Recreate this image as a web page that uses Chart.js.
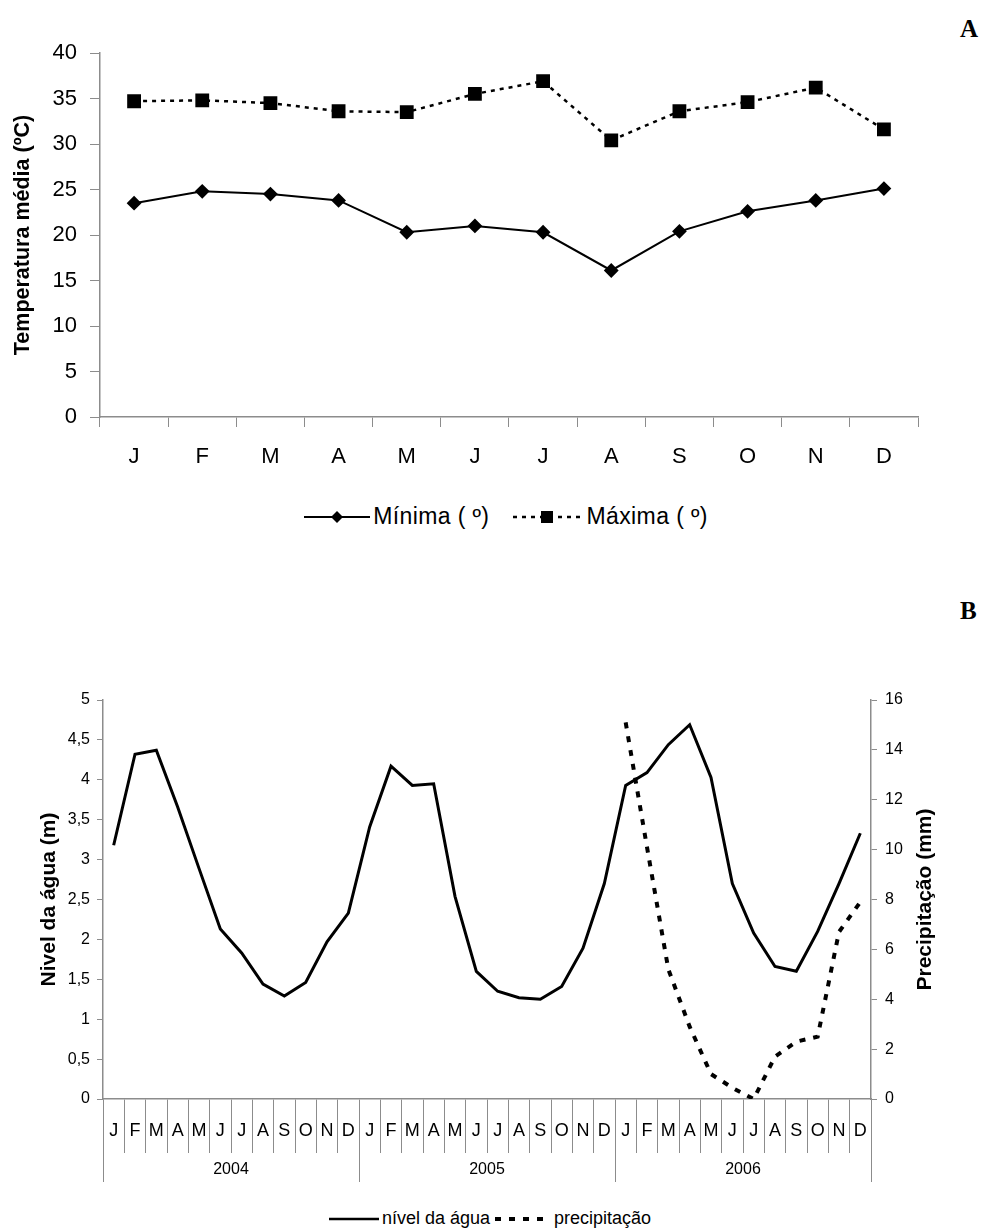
<!DOCTYPE html>
<html>
<head>
<meta charset="utf-8">
<script src="https://cdn.jsdelivr.net/npm/chart.js@4/dist/chart.umd.min.js"></script>
<style>
  body { margin: 0; background: #fff; width: 989px; height: 1231px; position: relative; overflow: hidden;
         font-family: "Liberation Sans", Arial, sans-serif; }
  #tempBox { position: absolute; left: 0; top: 0; width: 989px; height: 470px; }
  #nivelBox { position: absolute; left: 0; top: 640px; width: 989px; height: 560px; }
  .panel { position: absolute; left: 960px; font-family: "Liberation Serif", "Times New Roman", serif;
           font-weight: bold; font-size: 25px; line-height: 1; }
  .legend { position: absolute; left: 0; width: 989px; display: flex; justify-content: center;
            align-items: center; white-space: pre; color: #000; }
  .legend svg { margin: 0 3px; }
</style>
</head>
<body>
<div class="panel" style="top:16px">A</div>
<div class="panel" style="top:598px">B</div>

<div id="tempBox"><canvas id="tempChart"></canvas></div>
<div class="legend" id="tempLegend" style="top:503px;font-size:23px;letter-spacing:0.4px;left:10px">
  <svg width="66" height="16"><line x1="0" y1="8" x2="66" y2="8" stroke="#000" stroke-width="2"/><path d="M33 2 L39 8 L33 14 L27 8 Z" fill="#000"/></svg>
  <span>Mínima ( º)</span>
  <svg width="70" height="16" style="margin-left:24px"><line x1="0" y1="8" x2="70" y2="8" stroke="#000" stroke-width="2.5" stroke-dasharray="4 5"/><rect x="28" y="2" width="12" height="12" fill="#000"/></svg>
  <span>Máxima ( º)</span>
</div>

<div id="nivelBox"><canvas id="nivelChart"></canvas></div>
<div class="legend" id="nivelLegend" style="top:1208px;font-size:18px;left:-6px">
  <svg width="50" height="10"><line x1="0" y1="5" x2="50" y2="5" stroke="#000" stroke-width="2.5"/></svg>
  <span>nível da água</span>
  <svg width="56" height="10" style="margin-left:5px"><line x1="0" y1="5" x2="56" y2="5" stroke="#000" stroke-width="4" stroke-dasharray="6 8"/></svg>
  <span>precipitação</span>
</div>

<script>
  // ---- data ----
  const months = ['J', 'F', 'M', 'A', 'M', 'J', 'J', 'A', 'S', 'O', 'N', 'D'];
  const tempMin = [23.5, 24.8, 24.5, 23.8, 20.3, 21.0, 20.3, 16.1, 20.4, 22.6, 23.8, 25.1];
  const tempMax = [34.7, 34.8, 34.5, 33.6, 33.5, 35.5, 36.9, 30.4, 33.6, 34.6, 36.2, 31.6];

  const years = ['2004', '2005', '2006'];
  const nivel = [
    3.18, 4.32, 4.37, 3.66, 2.89, 2.13, 1.83, 1.44, 1.29, 1.46, 1.97, 2.33,
    3.41, 4.17, 3.93, 3.95, 2.54, 1.60, 1.35, 1.27, 1.25, 1.41, 1.89, 2.70,
    3.93, 4.09, 4.44, 4.69, 4.03, 2.70, 2.08, 1.66, 1.60, 2.10, 2.70, 3.33
  ];
  const precip = [
    null, null, null, null, null, null, null, null, null, null, null, null,
    null, null, null, null, null, null, null, null, null, null, null, null,
    15.1, 10.1, 5.2, 2.9, 1.0, 0.45, 0.0, 1.7, 2.3, 2.5, 6.7, 7.9
  ];
  const monthLabels = years.flatMap(() => months);

  const AXIS = '#8c8c8c';
  const SANS = '"Liberation Sans", Arial, sans-serif';
  const comma = v => String(v).replace('.', ',');

  Chart.defaults.font.family = SANS;
  Chart.defaults.color = '#000';
  Chart.defaults.animation = false;

  // right axis title, read bottom-to-top like the left one
  const rightTitle = {
    id: 'rightTitle',
    afterDraw(chart, args, opts) {
      const s = chart.scales.y2;
      const ctx = chart.ctx;
      ctx.save();
      ctx.translate(s.right - opts.offset, (s.top + s.bottom) / 2);
      ctx.rotate(-Math.PI / 2);
      ctx.font = 'bold 21px ' + SANS;
      ctx.textAlign = 'center';
      ctx.textBaseline = 'middle';
      ctx.fillStyle = '#000';
      ctx.fillText(opts.text, 0, 0);
      ctx.restore();
    }
  };

  /* =====================================================
     A - temperatura
     ===================================================== */
  new Chart(document.getElementById('tempChart'), {
    type: 'line',
    data: {
      labels: months,
      datasets: [
        {
          label: 'Mínima (º)',
          data: tempMin,
          borderColor: '#000',
          backgroundColor: '#000',
          borderWidth: 2,
          pointStyle: 'rectRot',
          pointRadius: 6,
          tension: 0
        },
        {
          label: 'Máxima (º)',
          data: tempMax,
          borderColor: '#000',
          backgroundColor: '#000',
          borderWidth: 2.5,
          borderDash: [4, 5],
          pointStyle: 'rect',
          pointRadius: 8,
          tension: 0
        }
      ]
    },
    options: {
      responsive: true,
      maintainAspectRatio: false,
      layout: { padding: { left: 0, right: 71, top: 53, bottom: 0 } },
      plugins: { legend: { display: false }, tooltip: { enabled: false } },
      scales: {
        x: {
          offset: true,
          grid: { offset: true, drawOnChartArea: false, color: AXIS, tickLength: 10 },
          border: { color: AXIS, width: 1.5 },
          ticks: { font: { size: 22 }, padding: 17, color: '#000' },
          afterFit: s => { s.height = 53; }
        },
        y: {
          min: 0,
          max: 40,
          ticks: { stepSize: 5, font: { size: 22 }, padding: 13, color: '#000' },
          grid: { drawOnChartArea: false, color: AXIS, tickLength: 10 },
          border: { color: AXIS, width: 1.5 },
          title: {
            display: true,
            text: 'Temperatura média (ºC)',
            font: { size: 21.5, weight: 'bold' },
            padding: { top: 10, bottom: 0 }
          },
          afterFit: s => { s.width = 100; }
        }
      }
    }
  });

  /* =====================================================
     B - nivel da agua / precipitacao
     ===================================================== */
  new Chart(document.getElementById('nivelChart'), {
    type: 'line',
    data: {
      labels: monthLabels,
      datasets: [
        {
          label: 'nível da água',
          data: nivel,
          yAxisID: 'y',
          borderColor: '#000',
          borderWidth: 3,
          pointRadius: 0,
          tension: 0
        },
        {
          label: 'precipitação',
          data: precip,
          yAxisID: 'y2',
          borderColor: '#000',
          borderWidth: 4,
          borderDash: [6, 8],
          pointRadius: 0,
          tension: 0
        }
      ]
    },
    plugins: [rightTitle],
    options: {
      responsive: true,
      maintainAspectRatio: false,
      layout: { padding: { left: 0, right: 0, top: 60, bottom: 0 } },
      plugins: {
        legend: { display: false },
        tooltip: { enabled: false },
        rightTitle: { text: 'Precipitação (mm)', offset: 64 }
      },
      scales: {
        x: {
          weight: 0,
          offset: true,
          grid: { offset: true, drawOnChartArea: false, color: AXIS, tickLength: 54 },
          border: { color: AXIS, width: 1.5 },
          ticks: { font: { size: 18 }, padding: -33, color: '#000', autoSkip: false, maxRotation: 0 },
          afterFit: s => { s.height = 41; }
        },
        years: {
          type: 'category',
          position: 'bottom',
          weight: 1,
          display: true,
          labels: years,
          offset: true,
          grid: { offset: true, drawOnChartArea: false, color: AXIS, tickLength: 42 },
          border: { display: false },
          ticks: { font: { size: 16 }, padding: -22, color: '#000' },
          afterFit: s => { s.height = 60; }
        },
        y: {
          position: 'left',
          min: 0,
          max: 5,
          ticks: { stepSize: 0.5, font: { size: 16 }, padding: 7, color: '#000', callback: comma },
          grid: { drawOnChartArea: false, color: AXIS, tickLength: 6 },
          border: { color: AXIS, width: 1.5 },
          title: {
            display: true,
            text: 'Nivel da água (m)',
            font: { size: 21, weight: 'bold' },
            padding: { top: 37, bottom: 0 }
          },
          afterFit: s => { s.width = 103; }
        },
        y2: {
          position: 'right',
          min: 0,
          max: 16,
          ticks: { stepSize: 2, font: { size: 16 }, padding: 8, color: '#000' },
          grid: { drawOnChartArea: false, color: AXIS, tickLength: 6 },
          border: { color: AXIS, width: 1.5 },
          afterFit: s => { s.width = 118; }
        }
      }
    }
  });
</script>
</body>
</html>
